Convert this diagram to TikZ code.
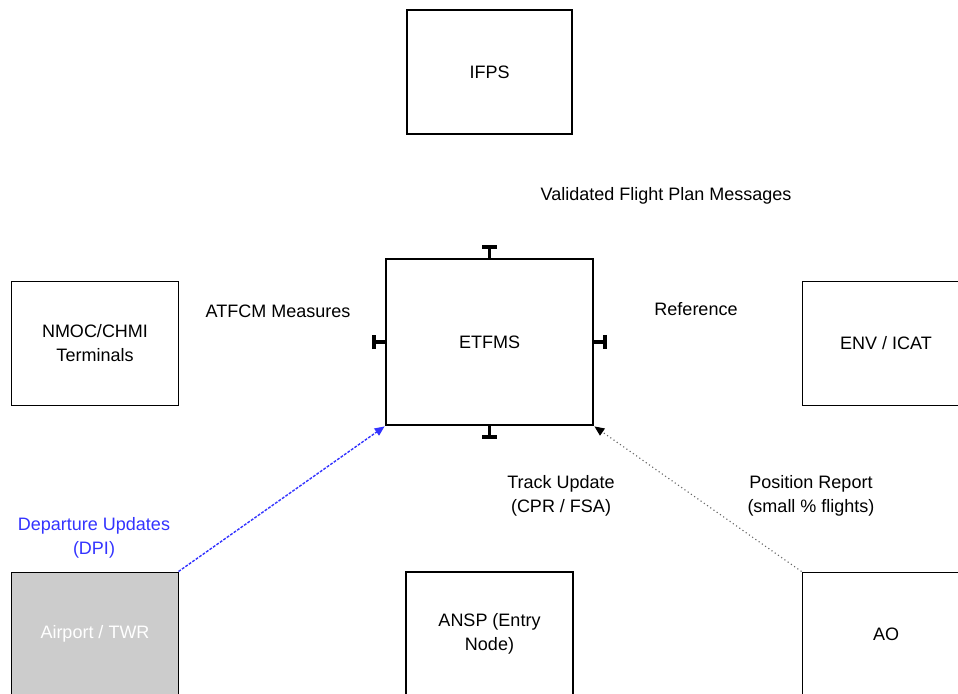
\documentclass[tikz,border=0pt]{standalone}
\usepackage{fontspec}
\setmainfont{Liberation Sans}
\usetikzlibrary{arrows.meta}
\definecolor{dpiblue}{RGB}{51,51,255}
\definecolor{twrgray}{RGB}{204,204,204}

\begin{document}
\begin{tikzpicture}[
	x=0.025cm, y=-0.025cm,
	font=\fontsize{12.8}{17}\selectfont,
	sysbox/.style={ draw, line width=2pt, align=center, inner sep=0pt, minimum width=4.15cm, minimum height=3.1cm },
	extbox/.style={ draw, line width=0.7pt, align=center, inner sep=0pt, minimum width=4.15cm, minimum height=3.1cm },
	lbl/.style={ align=center, inner sep=1pt },
	stub/.style={ line width=2.6pt, -{Bar[width=10pt,line width=3pt]} },
	dpiflow/.style={ dpiblue, line width=1pt, dash pattern=on 2pt off 1pt, -{Triangle[length=7pt,width=6pt]} },
	posflow/.style={ black!60, line width=0.8pt, dotted, -{Triangle[length=7pt,width=6pt,black]} }
]
\useasboundingbox (0,0) rectangle (958,693);

\node at (489.5,72) (ifps) [sysbox,minimum width=4.125cm] {IFPS};
\node at (489.5,342) (etfms) [sysbox,minimum width=5.175cm,minimum height=4.15cm] {ETFMS};
\node at (95,343) (nmoc) [extbox] {NMOC/CHMI\\Terminals};
\node at (886,343) (env) [extbox,minimum width=4.2cm] {ENV / ICAT};
\node at (95,634) (twr) [extbox,fill=twrgray,text=white] {Airport / TWR};
\node at (489.5,634) (ansp) [sysbox,minimum width=4.175cm] {ANSP (Entry\\Node)};
\node at (886,634) (ao) [extbox,minimum width=4.2cm] {AO};

% short tee ends on the ETFMS box
\coordinate (tn) at (489.5,245);
\coordinate (tw) at (372,342);
\coordinate (te) at (607,342);
\coordinate (ts) at (489.5,439);
\draw[stub] (etfms.north) -- (tn);
\draw[stub] (etfms.west) -- (tw);
\draw[stub] (etfms.east) -- (te);
\draw[stub] (etfms.south) -- (ts);

\draw[dpiflow] (twr.north east) -- (etfms.south west);
\draw[posflow] (ao.north west) -- (etfms.south east);

\node at (666,196) (vfpm) [lbl] {Validated Flight Plan Messages};
\node at (278,311) (atfcm) [lbl] {ATFCM Measures};
\node at (696,309) (ref) [lbl] {Reference};
\node at (561,496) (track) [lbl] {Track Update\\(CPR / FSA)};
\node at (811,496) (posrep) [lbl] {Position Report\\(small \% flights)};
\node at (94,538) (dpi) [lbl,text=dpiblue] {Departure Updates\\(DPI)};

\end{tikzpicture}
\end{document}
